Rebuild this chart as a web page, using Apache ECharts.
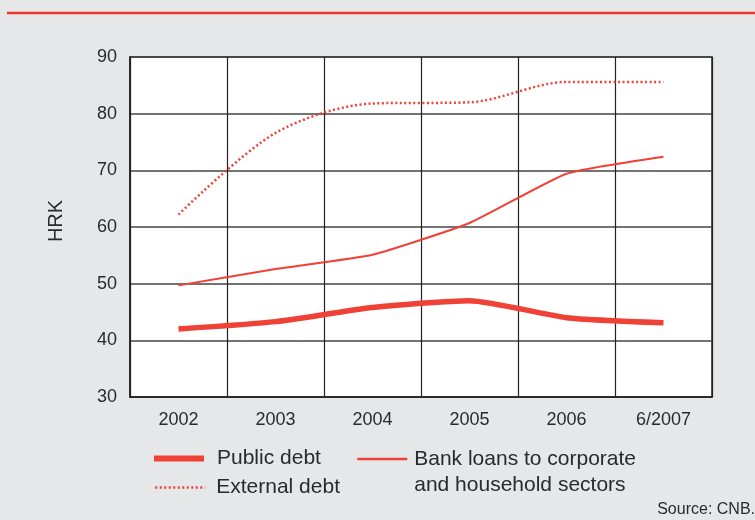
<!DOCTYPE html>
<html><head><meta charset="utf-8">
<script src="https://cdn.jsdelivr.net/npm/echarts@6/dist/echarts.min.js"></script>
<style>html,body{margin:0;padding:0;background:#e6e7e8}#c{width:755px;height:520px}</style>
</head><body><div id="c"></div>
<script>
const categories = ['2002', '2003', '2004', '2005', '2006', '6/2007'];
const publicDebt = [42.0, 43.3, 45.8, 47.0, 44.0, 43.1];
const bankLoans = [49.7, 52.6, 55.1, 60.7, 69.4, 72.4];
const externalDebt = [62.2, 76.6, 81.8, 82.0, 85.6, 85.6];
const yTicks = {min: 30, max: 90, interval: 10};
const RED = '#ef4136';
const FONT = '"Liberation Sans", Arial, sans-serif';
const TXT = '#2a2a2a';
const BANK = 'Bank loans to corporate and household sectors';

const legendBase = {padding: 0, itemWidth: 50, itemHeight: 14, itemStyle: {opacity: 0}, selectedMode: false};

const chart = echarts.init(document.getElementById('c'));
chart.setOption({
  backgroundColor: '#e6e7e8',
  animation: false,
  textStyle: {fontFamily: FONT},
  grid: {left: 130, right: 43, top: 57, bottom: 123, show: true, backgroundColor: '#fff', borderColor: '#222', borderWidth: 1.5},
  xAxis: {
    type: 'category', data: categories, boundaryGap: true,
    axisLine: {lineStyle: {color: '#222', width: 1.5}},
    axisTick: {show: false},
    axisLabel: {color: TXT, fontSize: 18, fontFamily: FONT, margin: 14},
    splitLine: {show: true, lineStyle: {color: '#222', width: 1.2}}
  },
  yAxis: {
    type: 'value', min: yTicks.min, max: yTicks.max, interval: yTicks.interval,
    name: 'HRK', nameLocation: 'middle', nameGap: 64, nameRotate: 90,
    nameTextStyle: {color: TXT, fontSize: 20, fontFamily: FONT, padding: [0, 0, 0, 12]},
    axisLine: {show: true, lineStyle: {color: '#222', width: 1.5}},
    axisTick: {show: false},
    axisLabel: {color: TXT, fontSize: 18, fontFamily: FONT, margin: 13},
    splitLine: {show: true, lineStyle: {color: '#444', width: 1.5}}
  },
  legend: [
    Object.assign({}, legendBase, {data: ['Public debt'], left: 151, top: 448, lineStyle: {width: 6}, textStyle: {fontSize: 21, color: TXT, fontFamily: FONT, padding: [0, 0, 0, 8]}}),
    Object.assign({}, legendBase, {data: ['External debt'], left: 154, top: 477, lineStyle: {width: 2.5, type: [2, 2.5]}, textStyle: {fontSize: 21, color: TXT, fontFamily: FONT, padding: [0, 0, 0, 6]}}),
    Object.assign({}, legendBase, {data: [BANK], left: 356, top: 420, lineStyle: {width: 2.5},
      formatter: function () { return '\nBank loans to corporate\nand household sectors'; },
      textStyle: {fontSize: 21, color: TXT, fontFamily: FONT, lineHeight: 26, padding: [0, 0, 0, 2]}})
  ],
  graphic: [
    {type: 'line', shape: {x1: 7, y1: 13, x2: 755, y2: 13}, style: {stroke: '#e8392f', lineWidth: 2.5}},
    {type: 'text', right: 0, top: 502, style: {text: 'Source: CNB.', fontSize: 16, fill: TXT, fontFamily: FONT}}
  ],
  series: [
    {name: 'Public debt', type: 'line', data: publicDebt, symbol: 'none', smooth: 0.2, color: RED, lineStyle: {width: 5.5, color: RED}},
    {name: 'External debt', type: 'line', data: externalDebt, symbol: 'none', smooth: 0.3, color: RED, lineStyle: {width: 2.5, color: RED, type: [2, 2.5]}},
    {name: BANK, type: 'line', data: bankLoans, symbol: 'none', smooth: 0.15, color: RED, lineStyle: {width: 2, color: RED}}
  ]
});
</script></body></html>
